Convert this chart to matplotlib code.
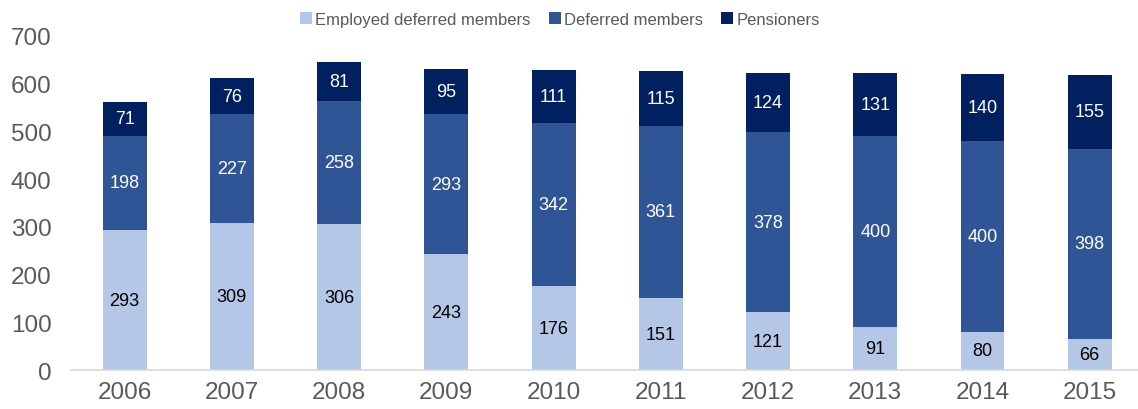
import numpy as np
import matplotlib
matplotlib.use("Agg")
import matplotlib.pyplot as plt

plt.rcParams["font.family"] = ["Liberation Sans", "DejaVu Sans"]

years = ["2006", "2007", "2008", "2009", "2010", "2011", "2012", "2013", "2014", "2015"]
employed_deferred = [293, 309, 306, 243, 176, 151, 121, 91, 80, 66]
deferred = [198, 227, 258, 293, 342, 361, 378, 400, 400, 398]
pensioners = [71, 76, 81, 95, 111, 115, 124, 131, 140, 155]

series = [
    ("Employed deferred members", employed_deferred, "#B4C7E7", "black"),
    ("Deferred members", deferred, "#2F5597", "white"),
    ("Pensioners", pensioners, "#002060", "white"),
]

fig = plt.figure(figsize=(11.38, 4.10), dpi=100)
ax = fig.add_axes([0.0624, 0.095, 0.9376, 0.815])

x = np.arange(len(years))
bottom = np.zeros(len(years))
for label, vals, color, txt in series:
    vals = np.array(vals, dtype=float)
    ax.bar(x, vals, width=0.41, bottom=bottom, color=color, label=label,
           edgecolor="none", zorder=2)
    for xi, b, v in zip(x, bottom, vals):
        ax.text(xi, b + v / 2, f"{int(v)}", ha="center", va="center",
                color=txt, fontsize=13)
    bottom += vals

ax.set_xlim(-0.5, 9.45)
ax.set_ylim(0, 700)
ax.set_yticks(range(0, 701, 100))
ax.set_xticks(x)
ax.set_xticklabels(years)
ax.tick_params(axis="both", length=0, labelsize=17.5, colors="#595959")
ax.tick_params(axis="x", pad=8)
ax.tick_params(axis="y", pad=14)
for s in ["top", "right", "left"]:
    ax.spines[s].set_visible(False)
ax.spines["bottom"].set_color("#D9D9D9")
ax.spines["bottom"].set_linewidth(1.2)

fig.legend(loc="upper center", bbox_to_anchor=(0.492, 1.005), ncol=3, frameon=False,
           fontsize=12, labelcolor="#595959", handlelength=0.7, handleheight=0.7,
           handletextpad=0.2, columnspacing=1.1)

fig.savefig("out.png", dpi=100)
